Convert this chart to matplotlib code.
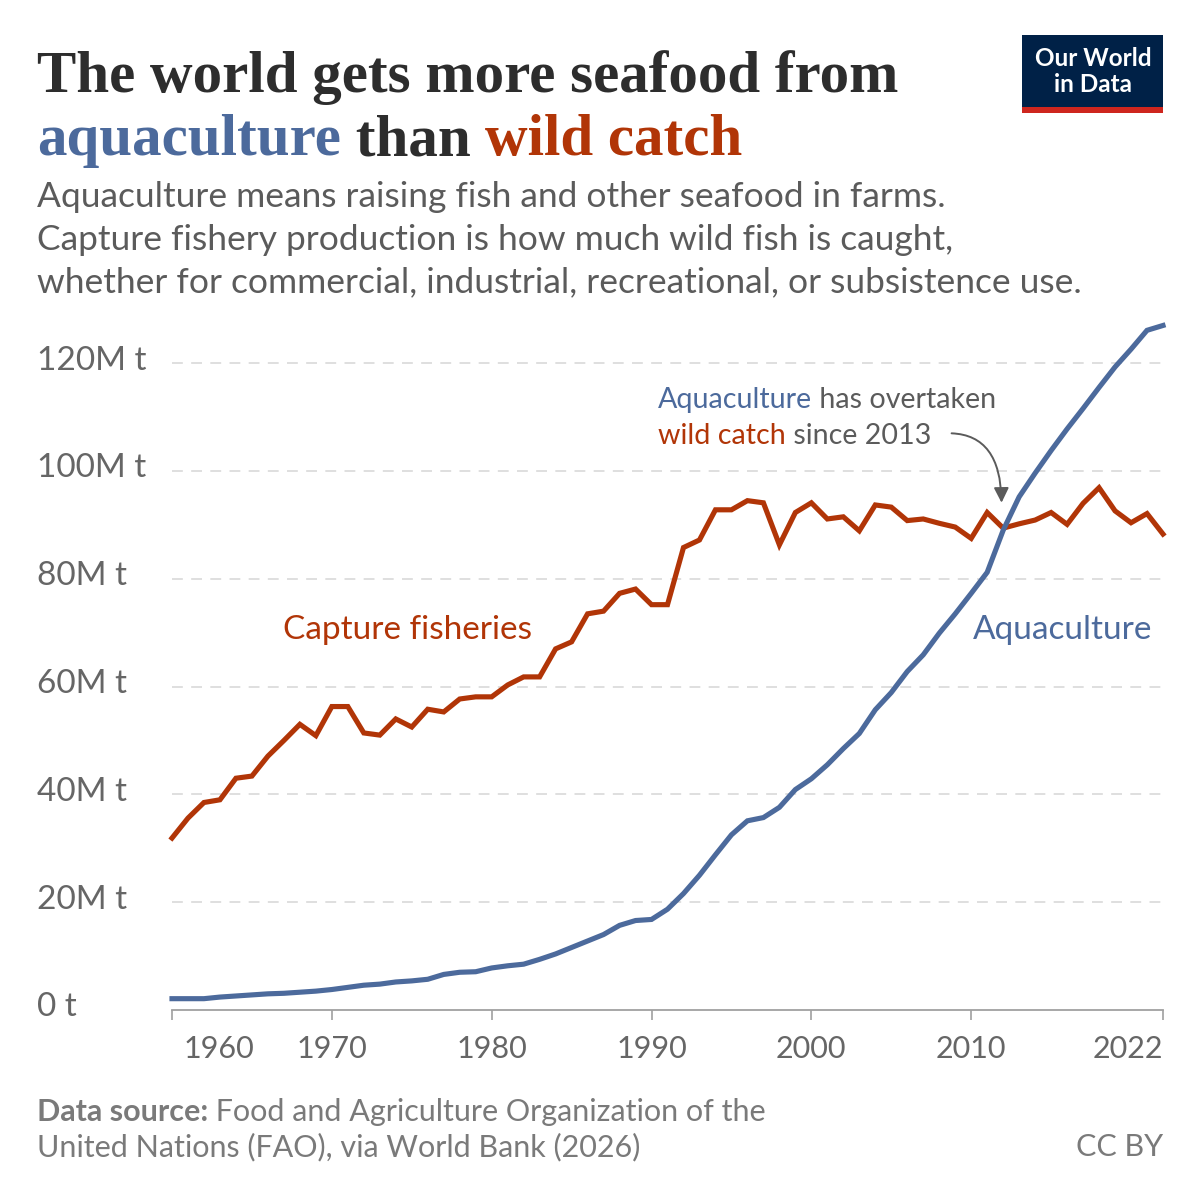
import matplotlib
matplotlib.use("Agg")
import matplotlib.pyplot as plt
from matplotlib.patches import Rectangle, FancyArrowPatch
from matplotlib.transforms import ScaledTranslation

# Data (million tonnes)
years = list(range(1960, 2023))

capture = [
    31.9, 35.6, 38.5, 39.0, 43.0, 43.4, 47.1, 50.0, 53.0, 50.9,
    56.3, 56.3, 51.4, 51.0, 54.0, 52.5, 55.8, 55.3, 57.7, 58.1,
    58.1, 60.3, 61.8, 61.8, 67.0, 68.3, 73.5, 74.0, 77.3, 78.1,
    75.2, 75.2, 85.8, 87.2, 92.8, 92.8, 94.5, 94.1, 86.3, 92.3,
    94.1, 91.1, 91.5, 88.9, 93.7, 93.3, 90.8, 91.1, 90.3, 89.6,
    87.5, 92.3, 89.4, 90.2, 90.9, 92.3, 90.1, 94.0, 96.9, 92.6,
    90.4, 92.1, 88.3,
]

aquaculture = [
    2.1, 2.1, 2.1, 2.4, 2.6, 2.8, 3.0, 3.1, 3.3, 3.5,
    3.8, 4.2, 4.6, 4.8, 5.2, 5.4, 5.7, 6.6, 7.0, 7.1,
    7.8, 8.2, 8.5, 9.4, 10.4, 11.6, 12.8, 14.0, 15.7, 16.6,
    16.8, 18.7, 21.6, 25.0, 28.8, 32.5, 35.1, 35.7, 37.6, 40.9,
    42.9, 45.5, 48.5, 51.3, 55.7, 58.9, 62.8, 65.9, 69.9, 73.5,
    77.3, 81.2, 89.0, 95.2, 99.6, 103.8, 107.8, 111.6, 115.5, 119.3,
    122.6, 126.1, 127.0,
]

yticks = [0, 20, 40, 60, 80, 100, 120]
ytick_labels = ["0 t", "20M t", "40M t", "60M t", "80M t", "100M t", "120M t"]
xticks = [1960, 1970, 1980, 1990, 2000, 2010, 2022]

RED = "#b13507"
BLUE = "#4c6a9c"
GREY_TXT = "#5b5b5b"
TICK_TXT = "#666666"
SERIF = ["Liberation Serif", "DejaVu Serif"]

plt.rcParams["font.family"] = ["Lato", "DejaVu Sans"]

W = H = 1200
fig = plt.figure(figsize=(12, 12), dpi=100)
fig.patch.set_facecolor("white")


def fx(px):
    return px / W


def fy(py):
    return 1 - py / H


# axes: x from 172px to 1163px, y=0 at 1010px
ymax = 128
ax = fig.add_axes([fx(172), fy(1010), fx(1163) - fx(172), ymax * 5.39 / H])
ax.set_xlim(1960, 2022)
ax.set_ylim(0, ymax)

ax.plot(years, capture, color=RED, lw=3.7, solid_joinstyle="miter", clip_on=False, zorder=3)
ax.plot(years, aquaculture, color=BLUE, lw=3.7, solid_joinstyle="miter", clip_on=False, zorder=3)

for s in ["top", "right", "left"]:
    ax.spines[s].set_visible(False)
ax.spines["bottom"].set_color("#a0a0a0")
ax.spines["bottom"].set_linewidth(1.3)

ax.set_yticks(yticks)
ax.set_yticklabels(ytick_labels)
ax.tick_params(axis="y", length=0, pad=97, labelsize=24, labelcolor=TICK_TXT)
for lab in ax.get_yticklabels():
    lab.set_horizontalalignment("left")
    lab.set_transform(lab.get_transform() + ScaledTranslation(0, 4 / 72, fig.dpi_scale_trans))

for y in yticks[1:]:
    ax.axhline(y, color="#d9d9d9", lw=1.2, ls=(0, (6.5, 5)), zorder=1)

ax.set_xticks(xticks)
ax.set_xticklabels([str(x) for x in xticks])
ax.tick_params(axis="x", length=7, width=1.2, color="#a0a0a0", pad=11,
               labelsize=22, labelcolor=TICK_TXT)
xl = ax.get_xticklabels()
xl[0].set_horizontalalignment("left")
xl[0].set_transform(xl[0].get_transform() + ScaledTranslation(8 / 72, 0, fig.dpi_scale_trans))
xl[-1].set_horizontalalignment("right")

# line labels
ax.text(1974.75, 70.5, "Capture fisheries", color=RED, fontsize=24, ha="center", va="center")
ax.text(2021.3, 70.5, "Aquaculture", color=BLUE, fontsize=24, ha="right", va="center")

# annotation
a1 = ax.text(1990.4, 110.8, "Aquaculture", color=BLUE, fontsize=20.6, va="bottom", ha="left")
ax.annotate(" has overtaken", xy=(1, 0), xycoords=a1, color=GREY_TXT, fontsize=20.6,
            va="bottom", ha="left", annotation_clip=False)
a2 = ax.text(1990.4, 104.1, "wild catch", color=RED, fontsize=20.6, va="bottom", ha="left")
ax.annotate(" since 2013", xy=(1, 0), xycoords=a2, color=GREY_TXT, fontsize=20.6,
            va="bottom", ha="left", annotation_clip=False)

arrow = FancyArrowPatch((2008.6, 107.0), (2011.9, 93.6),
                        connectionstyle="angle3,angleA=0,angleB=90",
                        arrowstyle="-|>,head_length=9,head_width=4.5",
                        color="#5b5b5b", lw=1.4, mutation_scale=1, zorder=4)
ax.add_patch(arrow)
arrow.set_clip_on(False)

# title
fig.text(fx(37), fy(92), "The world gets more seafood from", fontsize=42.5, fontweight="bold",
         family=SERIF, color="#2d2d2d", va="baseline")
t1 = fig.text(fx(37), fy(155), "aquaculture", fontsize=42.5, fontweight="bold",
              family=SERIF, color=BLUE, va="baseline")
t2 = ax.annotate(" than ", xy=(1, 0), xycoords=t1, fontsize=42.5, fontweight="bold",
                 family=SERIF, color="#2d2d2d", va="bottom", ha="left", annotation_clip=False)
ax.annotate("wild catch", xy=(1, 0), xycoords=t2, fontsize=42.5, fontweight="bold",
            family=SERIF, color=RED, va="bottom", ha="left", annotation_clip=False)

# subtitle
subtitle = ["Aquaculture means raising fish and other seafood in farms.",
            "Capture fishery production is how much wild fish is caught,",
            "whether for commercial, industrial, recreational, or subsistence use."]
for i, line in enumerate(subtitle):
    fig.text(fx(37), fy(197 + 42.5 * i), line, fontsize=25.5, color=GREY_TXT, va="center")

# logo
fig.add_artist(Rectangle((fx(1022), fy(113)), fx(141), 78 / H, transform=fig.transFigure,
                         facecolor="#002147", edgecolor="none"))
fig.add_artist(Rectangle((fx(1022), fy(113)), fx(141), 5.5 / H, transform=fig.transFigure,
                         facecolor="#ce261e", edgecolor="none"))
fig.text(fx(1093), fy(58), "Our World", color="white", fontsize=17.5, fontweight="bold",
         ha="center", va="center")
fig.text(fx(1093), fy(85), "in Data", color="white", fontsize=17.5, fontweight="bold",
         ha="center", va="center")

# footer
f1 = fig.text(fx(37), fy(1112), "Data source:", fontsize=22, fontweight="bold",
              color="#7a7a7a", va="center")
ax.annotate(" Food and Agriculture Organization of the", xy=(1, 0), xycoords=f1,
            fontsize=22, color="#7a7a7a", va="bottom", ha="left", annotation_clip=False)
fig.text(fx(37), fy(1147), "United Nations (FAO), via World Bank (2026)", fontsize=22,
         color="#7a7a7a", va="center")
fig.text(fx(1163), fy(1147), "CC BY", fontsize=22, color="#7a7a7a", va="center", ha="right")

fig.savefig("out.png", dpi=100)
